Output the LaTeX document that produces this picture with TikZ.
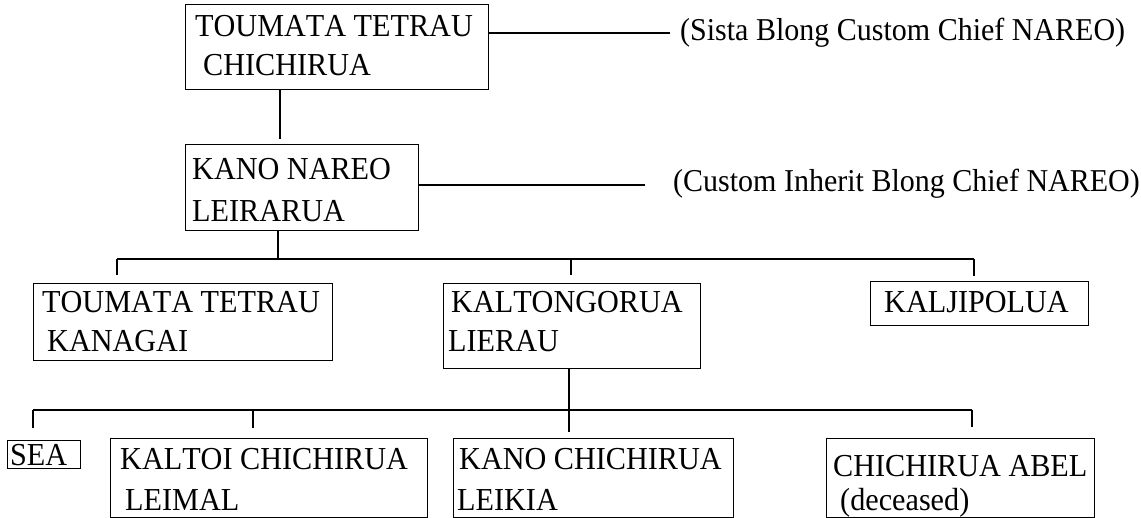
\documentclass[tikz,border=0pt]{standalone}
\usepackage{fontspec}
\usepackage{graphicx}
\setmainfont[Kerning=Off]{Liberation Serif}
\newcommand\stretchtxt[1]{\scalebox{1}[1.06]{#1}}
\begin{document}
\begin{tikzpicture}[x=1pt,y=-1pt,
  box/.style={draw, line width=1.2pt, inner sep=0pt, anchor=north west},
  txt/.style={anchor=base west, inner sep=0pt, font=\fontsize{30.2}{36}\selectfont},
  lab/.style={anchor=base west, inner sep=0pt, font=\fontsize{30}{36}\selectfont},
  ln/.style={line width=1.3pt}]
\useasboundingbox[fill=white] (0,0) rectangle (1141,518);
% boxes
\node[box, minimum width=303pt, minimum height=85pt] (b1) at (185,4) {};
\node[box, minimum width=233pt, minimum height=86pt] (b2) at (185,144) {};
\node[box, minimum width=299pt, minimum height=77pt] (b3) at (33,283) {};
\node[box, minimum width=257pt, minimum height=85pt] (b4) at (443,283) {};
\node[box, minimum width=218pt, minimum height=44pt] (b5) at (870,281) {};
\node[box, minimum width=73pt, minimum height=28pt] (b6) at (7,440) {};
\node[box, minimum width=317pt, minimum height=79pt] (b7) at (110,438) {};
\node[box, minimum width=280pt, minimum height=79pt] (b8) at (453,438) {};
\node[box, minimum width=268pt, minimum height=79pt] (b9) at (826,438) {};
% texts
\node[txt] (t1a) at (195,37) {\stretchtxt{TOUMATA TETRAU}};
\node[txt] (t1b) at (203,76) {\stretchtxt{CHICHIRUA}};
\node[txt] (t2a) at (192,180) {\stretchtxt{KANO NAREO}};
\node[txt] (t2b) at (192,222) {\stretchtxt{LEIRARUA}};
\node[txt] (t3a) at (42,313) {\stretchtxt{TOUMATA TETRAU}};
\node[txt] (t3b) at (47,352) {\stretchtxt{KANAGAI}};
\node[txt] (t4a) at (451,313) {\stretchtxt{KALTONGORUA}};
\node[txt] (t4b) at (448,352) {\stretchtxt{LIERAU}};
\node[txt] (t5) at (884,313) {\stretchtxt{KALJIPOLUA}};
\node[txt] (t6) at (10,465) {\stretchtxt{SEA}};
\node[txt] (t7a) at (120,470) {\stretchtxt{KALTOI CHICHIRUA}};
\node[txt] (t7b) at (125,510) {\stretchtxt{LEIMAL}};
\node[txt] (t8a) at (459,470) {\stretchtxt{KANO CHICHIRUA}};
\node[txt] (t8b) at (457,510) {\stretchtxt{LEIKIA}};
\node[txt] (t9a) at (833,476) {\stretchtxt{CHICHIRUA ABEL}};
\node[txt] (t9b) at (840,511) {\stretchtxt{(deceased)}};
% side labels
\node[lab] (lab1) at (680,41) {\stretchtxt{(Sista Blong Custom Chief NAREO)}};
\node[lab] (lab2) at (673,192) {\stretchtxt{(Custom Inherit Blong Chief NAREO)}};
\coordinate (e1) at (670,33);
\coordinate (e2) at (645,185);
\draw[ln] (b1.east |- e1) -- (e1);
\draw[ln] (b2.east |- e2) -- (e2);
% top connector
\coordinate (c1) at (280,0);
\draw[ln, shorten >=5pt] (b1.south -| c1) -- (b2.north -| c1);
% first sibling bar
\coordinate (j1) at (278,259);
\coordinate (L1) at (117,259);
\coordinate (M1) at (571,259);
\coordinate (R1) at (974,259);
\draw[ln] (b2.south -| j1) -- (j1);
\draw[ln] (L1) -- (R1);
\draw[ln, shorten >=8pt] (L1) -- (b3.north -| L1);
\draw[ln, shorten >=8pt] (M1) -- (b4.north -| M1);
\draw[ln, shorten >=5pt] (R1) -- (b5.north -| R1);
% second sibling bar
\coordinate (j2) at (569,410);
\coordinate (L2) at (33,410);
\coordinate (M2) at (253,410);
\coordinate (R2) at (972,410);
\draw[ln, shorten >=6pt] (b4.south -| j2) -- (b8.north -| j2);
\draw[ln] (L2) -- (R2);
\draw[ln, shorten >=12pt] (L2) -- (b6.north -| L2);
\draw[ln, shorten >=10pt] (M2) -- (b7.north -| M2);
\draw[ln, shorten >=11pt] (R2) -- (b9.north -| R2);
\end{tikzpicture}
\end{document}
